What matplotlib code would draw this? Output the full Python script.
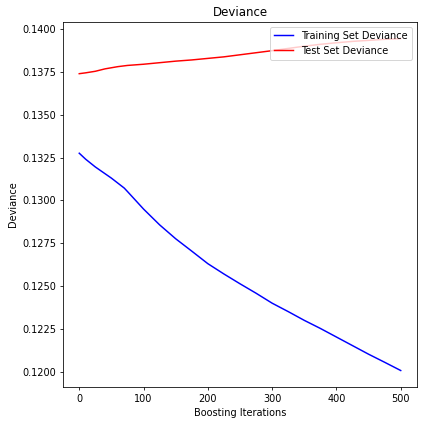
import numpy as np
import matplotlib
matplotlib.use("Agg")
import matplotlib.pyplot as plt

# --- values
train_iter = [0, 10, 25, 50, 70, 75, 100, 125, 150, 175, 200, 225, 250,
              275, 300, 325, 350, 375, 400, 425, 450, 475, 500]
train_dev = [0.13275, 0.13240, 0.13195, 0.13130, 0.13072, 0.13052, 0.12950,
             0.12858, 0.12777, 0.12705, 0.12632, 0.12572, 0.12515, 0.12460,
             0.12402, 0.12353, 0.12302, 0.12255, 0.12205, 0.12155, 0.12105,
             0.12058, 0.12010]

test_iter = [0, 10, 25, 40, 60, 75, 100, 125, 150, 175, 200, 225, 250,
             275, 300, 325, 350, 375, 400, 425, 450, 475, 500]
test_dev = [0.13738, 0.13743, 0.13752, 0.13766, 0.13779, 0.13786, 0.13793,
            0.13802, 0.13811, 0.13818, 0.13827, 0.13836, 0.13848, 0.13860,
            0.13872, 0.13885, 0.13898, 0.13909, 0.13918, 0.13926, 0.13932,
            0.13938, 0.13942]

# --- plot
fig = plt.figure(figsize=(6, 6), dpi=424 / 6)
ax = fig.add_subplot(1, 1, 1)
fig.subplots_adjust(left=0.149, right=0.983, top=0.948, bottom=0.087)

ax.set_title("Deviance")
ax.plot(train_iter, train_dev, "b-", label="Training Set Deviance")
ax.plot(test_iter, test_dev, "r-", label="Test Set Deviance")
ax.legend(loc="upper right")
ax.set_xlabel("Boosting Iterations")
ax.set_ylabel("Deviance")

fig.savefig("out.png", dpi=424 / 6)
